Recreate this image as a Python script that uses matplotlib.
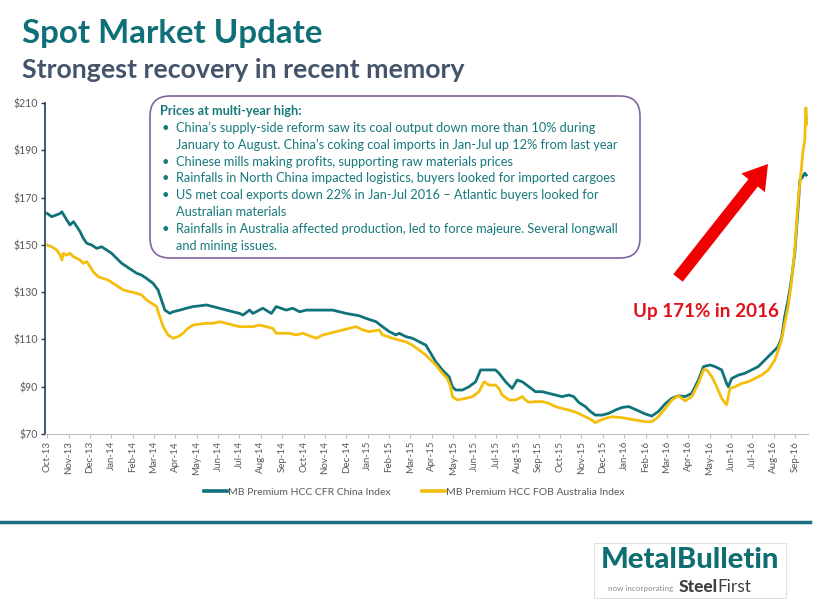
import numpy as np
import matplotlib
matplotlib.use('Agg')
import matplotlib.pyplot as plt
from matplotlib.patches import FancyBboxPatch, FancyArrow, Rectangle
from matplotlib.lines import Line2D

plt.rcParams['font.family'] = ['Lato', 'DejaVu Sans']

# month labels, one tick per month from Oct-13
meses = ['Oct-13', 'Nov-13', 'Dec-13',
         'Jan-14', 'Feb-14', 'Mar-14', 'Apr-14', 'May-14', 'Jun-14',
         'Jul-14', 'Aug-14', 'Sep-14', 'Oct-14', 'Nov-14', 'Dec-14',
         'Jan-15', 'Feb-15', 'Mar-15', 'Apr-15', 'May-15', 'Jun-15',
         'Jul-15', 'Aug-15', 'Sep-15', 'Oct-15', 'Nov-15', 'Dec-15',
         'Jan-16', 'Feb-16', 'Mar-16', 'Apr-16', 'May-16', 'Jun-16',
         'Jul-16', 'Aug-16', 'Sep-16']

# China index: (months since 1 Oct 2013, $/t)
china_t = [0.0, 0.22, 0.61, 0.69, 0.92, 1.07, 1.23, 1.39, 1.54, 1.69, 1.85,
           2.09, 2.32, 2.55, 2.79, 3.02, 3.25, 3.49, 3.72, 3.95, 4.19, 4.42,
           4.65, 4.96, 5.19, 5.35, 5.51, 5.74, 5.89, 6.21, 6.52, 6.83, 7.14,
           7.45, 7.76, 8.39, 9.01, 9.16, 9.47, 9.63, 10.09, 10.49, 10.72,
           11.19, 11.49, 11.81, 12.12, 12.74, 13.36, 13.99, 14.61, 14.92,
           15.39, 15.69, 16.01, 16.32, 16.47, 16.78, 17.09, 17.41, 17.72,
           17.95, 18.18, 18.49, 18.81, 18.96, 19.12, 19.43, 19.74, 20.05,
           20.28, 20.98, 21.14, 21.45, 21.76, 21.99, 22.23, 22.54, 22.85,
           23.16, 23.47, 23.78, 24.09, 24.41, 24.64, 24.87, 25.18, 25.42,
           25.65, 25.96, 26.27, 26.58, 26.89, 27.21, 27.52, 27.98, 28.29,
           28.60, 28.92, 29.23, 29.54, 29.85, 30.16, 30.47, 30.71, 31.02,
           31.25, 31.56, 31.79, 31.87, 32.03, 32.34, 32.65, 32.96, 33.27,
           33.58, 33.89, 34.20, 34.36, 34.51, 34.67, 34.82, 34.98, 35.14,
           35.22, 35.30, 35.45, 35.52]
china_v = [163.3, 161.9, 163.3, 164.0, 160.5, 158.4, 159.8, 157.7, 155.6,
           152.8, 150.7, 149.9, 148.5, 149.2, 147.8, 146.4, 144.3, 142.2,
           140.8, 139.4, 138.0, 137.2, 135.8, 133.7, 130.9, 126.7, 122.4,
           121.0, 121.7, 122.4, 123.2, 123.9, 124.2, 124.6, 123.9, 122.4,
           121.0, 120.3, 122.4, 121.0, 123.2, 121.0, 123.9, 122.4, 123.2,
           121.7, 122.4, 122.4, 122.4, 121.0, 120.0, 118.9, 117.5, 115.4,
           113.3, 111.9, 112.6, 111.2, 110.5, 109.0, 107.6, 104.1, 100.6,
           97.1, 94.2, 90.0, 88.6, 88.6, 90.0, 92.1, 97.1, 97.1, 95.7, 92.1,
           89.3, 92.8, 92.1, 90.0, 87.9, 87.9, 87.2, 86.5, 85.8, 86.5, 85.8,
           83.4, 81.6, 79.5, 78.0, 78.0, 78.7, 80.1, 81.2, 81.6, 80.4, 78.5,
           77.6, 79.5, 82.8, 85.1, 86.2, 85.8, 87.2, 92.8, 98.5, 99.2, 98.5,
           97.1, 91.4, 90.0, 93.5, 94.9, 95.7, 97.1, 98.5, 101.3, 104.1,
           106.9, 110.5, 119.6, 126.7, 135.1, 146.4, 166.1, 177.4, 178.1,
           180.3, 179.5]

# Australia index
aus_t = [0.0, 0.22, 0.45, 0.61, 0.69, 0.76, 0.92, 1.07, 1.23, 1.39, 1.54,
         1.69, 1.85, 2.01, 2.16, 2.39, 2.62, 2.86, 3.09, 3.33, 3.56, 3.87,
         4.19, 4.42, 4.65, 4.89, 5.12, 5.27, 5.43, 5.66, 5.89, 6.13, 6.36,
         6.59, 6.83, 7.14, 7.45, 7.76, 8.07, 8.70, 9.01, 9.63, 9.94, 10.56,
         10.72, 11.34, 11.65, 11.96, 12.59, 12.90, 13.52, 14.14, 14.45,
         14.77, 15.07, 15.54, 15.69, 16.17, 16.47, 16.78, 17.09, 17.41,
         17.72, 17.95, 18.18, 18.49, 18.72, 18.88, 18.96, 19.19, 19.59,
         19.90, 20.21, 20.44, 20.67, 20.98, 21.14, 21.29, 21.61, 21.92,
         22.23, 22.38, 22.54, 22.85, 23.16, 23.47, 23.78, 24.09, 24.41,
         24.64, 24.87, 25.18, 25.42, 25.65, 25.80, 26.11, 26.42, 26.89,
         27.52, 27.98, 28.29, 28.60, 28.92, 29.23, 29.54, 29.85, 30.16,
         30.47, 30.71, 30.87, 31.10, 31.33, 31.56, 31.79, 31.95, 32.19,
         32.50, 32.81, 33.12, 33.43, 33.74, 34.05, 34.36, 34.51, 34.67,
         34.82, 34.98, 35.14, 35.30, 35.37, 35.45, 35.50, 35.55]
aus_v = [149.9, 149.2, 147.8, 145.7, 143.6, 146.4, 145.7, 146.4, 145.0,
         144.3, 143.6, 142.2, 142.9, 140.8, 138.6, 136.5, 135.8, 135.1,
         133.7, 132.3, 130.9, 130.2, 129.5, 128.8, 126.7, 125.3, 123.9,
         119.6, 115.4, 111.9, 110.5, 111.2, 112.6, 114.7, 116.1, 116.5,
         116.8, 116.8, 117.5, 116.1, 115.4, 115.4, 116.1, 114.7, 112.6,
         112.6, 111.9, 112.6, 110.5, 111.9, 113.3, 114.7, 115.4, 114.0,
         113.3, 114.0, 111.9, 110.5, 109.7, 109.0, 107.6, 105.5, 103.4,
         101.3, 99.2, 95.7, 93.5, 90.0, 85.8, 84.4, 85.1, 85.8, 87.9, 92.1,
         90.7, 90.7, 89.3, 86.5, 84.4, 84.4, 85.8, 84.4, 83.4, 83.7, 83.7,
         83.0, 81.6, 80.8, 80.1, 79.5, 78.7, 77.3, 76.3, 74.8, 75.5, 76.6,
         77.3, 76.9, 75.9, 75.2, 75.2, 77.3, 80.8, 84.4, 86.2, 84.0, 85.8,
         91.4, 97.1, 97.1, 94.2, 90.0, 85.1, 82.3, 89.3, 90.0, 91.4, 92.1,
         93.5, 94.9, 97.1, 101.3, 109.7, 116.8, 123.9, 133.7, 147.8, 169.0,
         183.1, 190.1, 194.3, 208.0, 201.0]

teal = '#11737a'
amarelo = '#f4bf0c'
cinza = '#595959'

def pol(x, y):
    # pixel position (from top-left) to inches for dpi_scale_trans
    return x / 100.0, (599 - y) / 100.0

fig = plt.figure(figsize=(8.2, 5.99), dpi=100)
fig.patch.set_facecolor('white')
ax = fig.add_axes([45 / 820, 1 - 434 / 599, (808 - 45) / 820, (434 - 103) / 599])

ax.plot(china_t, china_v, color=teal, lw=2.0, solid_joinstyle='round',
        label='MB Premium HCC CFR China Index')
ax.plot(aus_t, aus_v, color=amarelo, lw=2.0, solid_joinstyle='round',
        label='MB Premium HCC FOB Australia Index')

ax.set_xlim(-0.1, 35.6)
ax.set_ylim(70, 210)
ax.set_yticks(np.arange(70, 211, 20))
ax.set_yticklabels(['$%d' % v for v in range(70, 211, 20)])
ax.set_xticks(np.arange(len(meses)))
ax.set_xticklabels(meses, rotation=90)
ax.tick_params(axis='y', colors='#1f3b5a', labelcolor=cinza, labelsize=7.6,
               length=3, width=1, pad=2)
ax.tick_params(axis='x', colors='#bfbfbf', labelcolor=cinza, labelsize=7,
               length=3, width=0.8, pad=2)
for s in ['top', 'right']:
    ax.spines[s].set_visible(False)
ax.spines['left'].set_color('#1f3b5a')
ax.spines['left'].set_linewidth(1.2)
ax.spines['bottom'].set_color('#bfbfbf')
ax.spines['bottom'].set_linewidth(0.8)
ax.set_facecolor('none')

# titulos
fig.text(22 / 820, 1 - 34 / 599, 'Spot Market Update', color='#0f7077',
         fontsize=23.8, fontweight='bold', va='center', ha='left')
fig.text(22 / 820, 1 - 70 / 599, 'Strongest recovery in recent memory',
         color='#44546a', fontsize=19.3, fontweight='bold', va='center', ha='left')

# caixa de texto
caixa = FancyBboxPatch(pol(150, 258), 4.9, 1.62,
                       boxstyle='round,pad=0,rounding_size=0.2',
                       transform=fig.dpi_scale_trans, facecolor='white',
                       edgecolor='#8064a2', lw=1.2, zorder=3)
fig.patches.append(caixa)

linhas = [
    (True, 'China\u2019s supply-side reform saw its coal output down more than 10% during'),
    (False, 'January to August. China\u2019s coking coal imports in Jan-Jul up 12% from last year'),
    (True, 'Chinese mills making profits, supporting raw materials prices'),
    (True, 'Rainfalls in North China impacted logistics, buyers looked for imported cargoes'),
    (True, 'US met coal exports down 22% in Jan-Jul 2016 \u2013 Atlantic buyers looked for'),
    (False, 'Australian materials'),
    (True, 'Rainfalls in Australia affected production, led to force majeure. Several longwall'),
    (False, 'and mining issues.'),
]
cor_txt = '#17797b'
fig.text(160 / 820, 1 - 111 / 599, 'Prices at multi-year high:', color=cor_txt,
         fontsize=9.2, fontweight='bold', va='center', zorder=4)
for i, (bala, txt) in enumerate(linhas):
    y = 128 + i * 16.8
    if bala:
        fig.text(162 / 820, 1 - y / 599, '\u2022', color=cor_txt, fontsize=9.2,
                 va='center', zorder=4)
    fig.text(176 / 820, 1 - y / 599, txt, color=cor_txt, fontsize=9.2,
             va='center', zorder=4)

# seta vermelha
ox, oy = pol(678, 278)
dx, dy = pol(768, 164)
seta = FancyArrow(ox, oy, dx - ox, dy - oy, width=0.12, head_width=0.30,
                  head_length=0.24, length_includes_head=True,
                  transform=fig.dpi_scale_trans, color='#f00000', lw=0)
fig.patches.append(seta)
fig.text(706 / 820, 1 - 312 / 599, 'Up 171% in 2016', color='#e0111b',
         fontsize=13.6, fontweight='bold', ha='center', va='center')

# legenda
fig.legend(handles=ax.get_lines(), loc='center', bbox_to_anchor=(414 / 820, 1 - 492 / 599),
           ncol=2, frameon=False, fontsize=7.5, labelcolor=cinza, handlelength=2.2,
           handletextpad=0.1, columnspacing=3.0)
for h in fig.legends[0].legend_handles:
    h.set_linewidth(2.6)

# linha horizontal
fig.add_artist(Line2D([0, 810 / 820], [1 - 522 / 599] * 2, color='#1d6d84', lw=2.5))

# logo
fig.patches.append(Rectangle(pol(594, 598), 1.92, 0.55, transform=fig.dpi_scale_trans,
                             facecolor='white', edgecolor='#e0e0e0', lw=0.8))
fig.text(690 / 820, 1 - 568 / 599, 'MetalBulletin', color='#0e6e72', fontsize=21,
         fontweight='black', ha='center', va='baseline')
fig.text(673 / 820, 1 - 591 / 599, 'now incorporating', color='#8c8c8c', fontsize=5.8,
         ha='right', va='baseline')
aco = fig.text(679 / 820, 1 - 592 / 599, 'Steel', color='#404040', fontsize=12.5,
               fontweight='black', ha='left', va='baseline')
fig.canvas.draw()
fim = aco.get_window_extent().x1
fig.text(fim / 820 - 0.5 / 820, 1 - 592 / 599, 'First', color='#404040', fontsize=12.5,
         ha='left', va='baseline')

fig.savefig('out.png', dpi=100, facecolor='white')
